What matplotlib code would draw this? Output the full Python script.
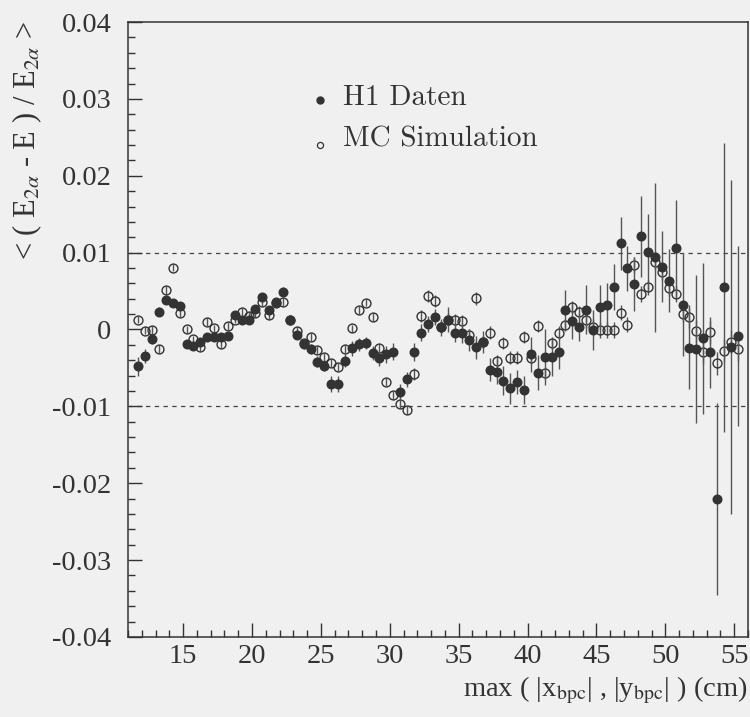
import numpy as np
import matplotlib
matplotlib.use("Agg")
import matplotlib.pyplot as plt
from matplotlib.ticker import MultipleLocator, FixedLocator

plt.rcParams['font.family'] = ['Liberation Serif', 'DejaVu Serif']
plt.rcParams['mathtext.fontset'] = 'stix'
plt.rcParams['axes.unicode_minus'] = False

# bin centres in max(|x_bpc|,|y_bpc|) (cm)
bins = [11.75, 12.25, 12.75, 13.25, 13.75, 14.25, 14.75, 15.25, 15.75, 16.25, 16.75,
        17.25, 17.75, 18.25, 18.75, 19.25, 19.75, 20.25, 20.75, 21.25, 21.75, 22.25,
        22.75, 23.25, 23.75, 24.25, 24.75, 25.25, 25.75, 26.25, 26.75, 27.25, 27.75,
        28.25, 28.75, 29.25, 29.75, 30.25, 30.75, 31.25, 31.75, 32.25, 32.75, 33.25,
        33.75, 34.25, 34.75, 35.25, 35.75, 36.25, 36.75, 37.25, 37.75, 38.25, 38.75,
        39.25, 39.75, 40.25, 40.75, 41.25, 41.75, 42.25, 42.75, 43.25, 43.75, 44.25,
        44.75, 45.25, 45.75, 46.25, 46.75, 47.25, 47.75, 48.25, 48.75, 49.25, 49.75,
        50.25, 50.75, 51.25, 51.75, 52.25, 52.75, 53.25, 53.75, 54.25, 54.75, 55.25]

# H1 Daten, in units of 1e-3
h1 = [-4.8, -3.45, -1.3, 2.3, 3.9, 3.5, 3.05, -1.9, -2.15, -1.6, -1.0,
      -1.0, -1.0, -0.8, 1.9, 1.25, 1.25, 2.65, 4.25, 2.55, 3.55, 4.9,
      1.3, -0.7, -1.9, -2.55, -4.2, -4.7, -7.1, -7.1, -4.05, -2.45, -1.95,
      -1.8, -3.1, -3.75, -3.2, -2.9, -8.15, -6.5, -2.9, -0.4, 0.7, 1.65,
      0.3, 1.3, -0.4, -0.4, -1.35, -2.3, -1.6, -5.25, -5.5, -6.65, -7.65,
      -6.85, -7.85, -3.25, -5.6, -3.6, -3.6, -2.95, 2.55, 1.05, 0.3, 2.55,
      -0.05, 2.95, 3.2, 5.5, 11.2, 7.95, 5.9, 12.1, 10.05, 9.4, 8.15,
      6.35, 10.55, 3.2, -2.45, -2.55, -1.15, -2.95, -22.1, 5.5, -2.25, -0.8]
h1_err = [1.2, 0.9, 0.6, 0.6, 0.5, 0.5, 0.5, 0.5, 0.5, 0.5, 0.5,
          0.5, 0.5, 0.5, 0.5, 0.5, 0.5, 0.5, 0.5, 0.5, 0.6, 0.6,
          0.6, 0.6, 0.6, 0.6, 0.7, 0.7, 1.0, 1.0, 0.8, 1.0, 0.8,
          0.8, 0.9, 1.0, 1.1, 1.1, 1.0, 1.0, 1.2, 1.1, 1.0, 1.0,
          1.1, 1.6, 1.2, 1.3, 1.4, 1.5, 1.4, 1.5, 1.6, 1.9, 2.0,
          1.6, 1.8, 2.3, 2.3, 3.6, 2.4, 2.2, 2.6, 2.3, 1.8, 3.2,
          2.6, 2.9, 2.8, 3.0, 3.4, 2.9, 3.5, 5.3, 5.0, 9.7, 4.6,
          4.1, 6.3, 6.7, 5.3, 9.6, 9.8, 4.6, 12.5, 18.8, 21.7, 11.7]

# MC Simulation, in units of 1e-3
mc = [1.3, -0.15, -0.05, -2.5, 5.15, 8.05, 2.1, 0.0, -1.3, -2.3, 1.0,
      0.15, -1.9, 0.45, 1.3, 2.3, 1.75, 2.1, 3.6, 1.9, 3.4, 3.6,
      1.2, -0.15, -1.7, -1.0, -2.65, -3.6, -4.4, -4.85, -2.55, 0.15, 2.55,
      3.5, 1.65, -2.45, -6.85, -8.5, -9.7, -10.45, -5.8, 1.75, 4.35, 3.7,
      0.3, 1.3, 1.25, 1.15, -0.7, 4.05, -1.6, -0.4, -4.1, -1.8, -3.65,
      -3.65, -0.95, -3.75, 0.5, -5.7, -1.8, -0.4, 0.6, 2.9, 2.25, 1.25,
      0.35, -0.05, -0.05, -0.05, 2.2, 0.65, 8.4, 4.6, 5.5, 8.8, 7.45,
      5.35, 4.6, 2.0, 1.65, -0.2, -2.95, -0.35, -4.4, -2.75, -1.6, -2.55]
mc_err = [0.5, 0.5, 0.5, 0.5, 0.5, 0.5, 0.5, 0.5, 0.5, 0.5, 0.5,
          0.5, 0.5, 0.5, 0.5, 0.5, 0.5, 0.5, 0.5, 0.5, 0.5, 0.5,
          0.5, 0.5, 0.5, 0.5, 0.5, 0.5, 0.5, 0.5, 0.5, 0.5, 0.5,
          0.5, 0.5, 0.5, 0.5, 0.5, 0.5, 0.5, 0.8, 0.8, 0.8, 0.8,
          0.8, 0.8, 0.8, 0.8, 0.8, 0.8, 0.8, 0.8, 0.8, 0.8, 0.8,
          0.8, 0.8, 0.8, 0.8, 0.8, 0.8, 0.8, 0.8, 0.8, 0.8, 1.0,
          1.0, 1.0, 1.0, 1.0, 1.0, 1.0, 1.0, 1.0, 1.0, 1.0, 1.0,
          1.0, 1.0, 1.0, 1.5, 1.5, 1.5, 1.5, 1.5, 1.5, 1.5, 1.5]

y_ticks = [-0.04, -0.03, -0.02, -0.01, 0.0, 0.01, 0.02, 0.03, 0.04]
y_tick_labels = ['-0.04', '-0.03', '-0.02', '-0.01', '0', '0.01', '0.02', '0.03', '0.04']

bg = '#f0f0f0'
ink = '#333333'

fig = plt.figure(figsize=(7.5, 7.17), dpi=100, facecolor=bg)
ax = fig.add_axes([0.1707, 0.1116, 0.8266, 0.8577])
ax.set_facecolor(bg)

scale = 1e-3
ax.axhline(0.01, color='#444444', lw=0.9, ls=(0, (3.5, 3.5)), zorder=1)
ax.axhline(-0.01, color='#444444', lw=0.9, ls=(0, (3.5, 3.5)), zorder=1)

ax.errorbar(bins, np.array(mc) * scale, yerr=np.array(mc_err) * scale, fmt='o',
            ms=6.4, mfc='none', mec=ink, mew=1.0, ecolor='#555555',
            elinewidth=1.0, capsize=0, zorder=3)
ax.errorbar(bins, np.array(h1) * scale, yerr=np.array(h1_err) * scale, fmt='o',
            ms=6.2, mfc=ink, mec=ink, ecolor='#555555',
            elinewidth=1.0, capsize=0, zorder=4)

ax.set_xlim(11, 56)
ax.set_ylim(-0.04, 0.04)
ax.xaxis.set_major_locator(MultipleLocator(5))
ax.xaxis.set_minor_locator(MultipleLocator(1))
ax.yaxis.set_major_locator(FixedLocator(y_ticks))
ax.set_yticklabels(y_tick_labels)
ax.yaxis.set_minor_locator(MultipleLocator(0.002))

ax.tick_params(which='both', direction='in', top=False, right=False,
               colors=ink, labelcolor=ink, labelsize=20.5, width=1.0)
ax.tick_params(which='major', length=10)
ax.tick_params(which='minor', length=5)
ax.tick_params(axis='y', pad=12)
ax.tick_params(axis='x', pad=5)
for s in ax.spines.values():
    s.set_color(ink)
    s.set_linewidth(1.1)

# legend
ax.plot([0.3097], [0.873], 'o', ms=5.0, color=ink, transform=ax.transAxes)
ax.plot([0.3097], [0.800], 'o', ms=4.4, mfc='none', mec=ink, mew=0.9,
        transform=ax.transAxes)
ax.text(0.347, 0.865, 'H1 Daten', fontfamily='cmr10', fontsize=21, color=ink,
        va='baseline', transform=ax.transAxes)
ax.text(0.347, 0.797, 'MC Simulation', fontfamily='cmr10', fontsize=21, color=ink,
        va='baseline', transform=ax.transAxes)

fig.text(0.997, 0.0377, r'max ( |x$_{\rm bpc}$| , |y$_{\rm bpc}$| ) (cm)',
         ha='right', va='center', fontsize=20.5, color=ink)
fig.text(0.036, 0.972, r'< ( E$_{2\alpha}$ - E ) / E$_{2\alpha}$ >',
         rotation=90, ha='center', va='top', fontsize=22, color=ink)

fig.savefig('out.png', dpi=100, facecolor=bg)
